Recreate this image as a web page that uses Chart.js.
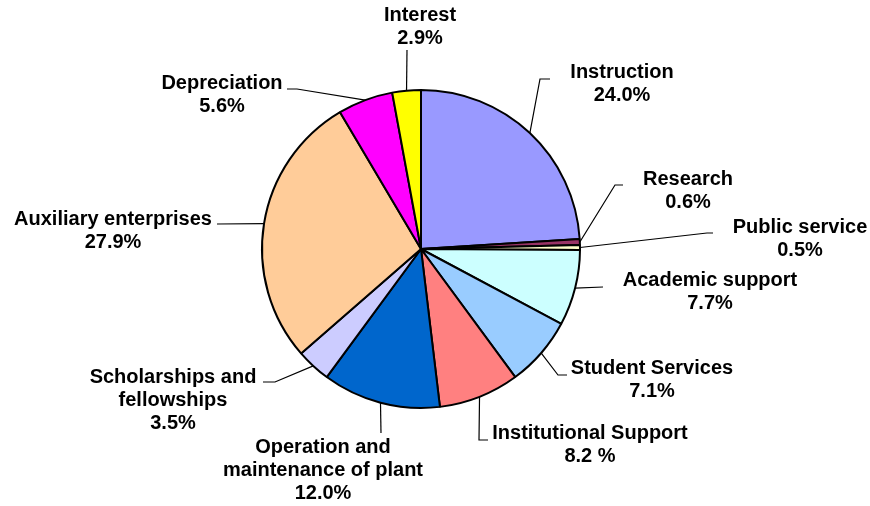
<!DOCTYPE html>
<html>
<head>
<meta charset="utf-8">
<script src="https://cdn.jsdelivr.net/npm/chart.js@4.4.1/dist/chart.umd.min.js"></script>
<style>
  html, body { margin: 0; padding: 0; background: #fff; }
  #wrap { width: 870px; height: 506px; }
</style>
</head>
<body>
<div id="wrap"><canvas id="pieChart" width="870" height="506"></canvas></div>
<script>
// ===== DATA =====
const categories = [
    'Instruction', 'Research', 'Public service', 'Academic support',
    'Student Services', 'Institutional Support', 'Operation and\nmaintenance of plant',
    'Scholarships and\nfellowships', 'Auxiliary enterprises', 'Depreciation', 'Interest'
];
const shares = [24.0, 0.6, 0.5, 7.7, 7.1, 8.2, 12.0, 3.5, 27.9, 5.6, 2.9];
const shareLabels = ['24.0%', '0.6%', '0.5%', '7.7%', '7.1%', '8.2 %', '12.0%', '3.5%', '27.9%', '5.6%', '2.9%'];
const sliceColors = [
    '#9999FF', '#993366', '#FFFFCC', '#CCFFFF', '#99CCFF', '#FF8080',
    '#0066CC', '#CCCCFF', '#FFCC99', '#FF00FF', '#FFFF00'
];

// label placement: text centre x, first line y, elbow x/y, end x/y of the leader
const labelSpots = [
    [622, 72, 540, 79, 550, 79],
    [688, 179, 615, 185, 623, 185],
    [800, 227, 707, 233, 713, 233],
    [710, 280, 603, 287, 603, 287],
    [652, 368, 558, 375, 567, 375],
    [590, 433, 479, 440, 488, 440],
    [323, 447, 381, 433, 381, 433],
    [173, 377, 275, 382, 263, 382],
    [113, 219, 217, 224, 217, 224],
    [222, 83, 297, 89, 287, 89],
    [420, 15, 407, 50, 407, 50]
];

// ===== LABELS + LEADER LINES =====
const leaderLabels = {
    id: 'leaderLabels',
    afterDraw(chart) {
        const ctx = chart.ctx;
        const arcs = chart.getDatasetMeta(0).data;
        ctx.save();
        ctx.strokeStyle = '#000';
        ctx.lineWidth = 1.2;
        ctx.fillStyle = '#000';
        ctx.font = 'bold 20px "Liberation Sans", Arial, sans-serif';
        ctx.textAlign = 'center';
        ctx.textBaseline = 'middle';
        arcs.forEach((arc, i) => {
            const mid = (arc.startAngle + arc.endAngle) / 2;
            const sx = arc.x + Math.cos(mid) * arc.outerRadius;
            const sy = arc.y + Math.sin(mid) * arc.outerRadius;
            const [tx, ty, ex, ey, fx, fy] = labelSpots[i];
            ctx.beginPath();
            ctx.moveTo(sx, sy);
            ctx.lineTo(ex, ey);
            ctx.lineTo(fx, fy);
            ctx.stroke();

            const lines = categories[i].split('\n').concat(shareLabels[i]);
            lines.forEach((txt, k) => ctx.fillText(txt, tx, ty + k * 23.3));
        });
        ctx.restore();
    }
};

new Chart(document.getElementById('pieChart').getContext('2d'), {
    type: 'pie',
    data: {
        labels: categories,
        datasets: [{
            data: shares,
            backgroundColor: sliceColors,
            borderColor: '#000',
            borderWidth: 2
        }]
    },
    options: {
        responsive: false,
        animation: false,
        radius: 159,
        layout: { padding: { left: 0, right: 28, top: 0, bottom: 8 } },
        plugins: {
            legend: { display: false },
            tooltip: { enabled: false }
        }
    },
    plugins: [leaderLabels]
});
</script>
</body>
</html>
